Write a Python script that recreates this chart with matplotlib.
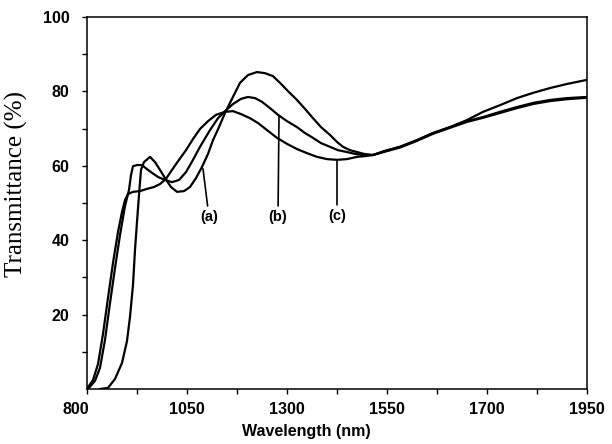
import matplotlib
import matplotlib.pyplot as plt
from matplotlib.ticker import FixedLocator
from matplotlib.transforms import ScaledTranslation

matplotlib.use('Agg')

# wavelength (nm, as read along the evenly spaced axis) and transmittance (%)
wl_a = [832.5, 852.5, 870, 887.5, 900, 907.5, 915, 920, 925, 930, 935, 942.5,
        957.5, 970, 982.5, 995, 1010, 1025, 1042.5, 1057.5, 1072.5, 1087.5,
        1102.5, 1115, 1130, 1145, 1162.5, 1182.5, 1202.5, 1225, 1245, 1265,
        1282.5, 1305, 1325, 1345, 1365, 1385, 1407.5, 1425, 1440, 1457.5,
        1475, 1492.5, 1515, 1545, 1582.5, 1625, 1665, 1707.5, 1750, 1790,
        1832.5, 1875, 1915, 1957.5, 2000, 2050]
tr_a = [0.0, 0.3, 2.7, 7.0, 12.9, 19.4, 28.0, 37.4, 44.9, 52.2, 58.9, 61.0,
        62.4, 61.0, 58.9, 56.7, 54.3, 53.0, 53.2, 54.3, 56.7, 59.7,
        63.2, 66.9, 70.4, 74.2, 78.0, 82.3, 84.4, 85.2, 84.9, 84.1,
        82.3, 79.8, 77.7, 75.3, 72.8, 70.4, 68.3, 66.4, 65.1, 64.2,
        63.7, 63.2, 62.9, 64.0, 65.1, 66.9, 68.8, 70.4, 72.3, 74.5,
        76.3, 78.2, 79.6, 80.9, 82.0, 83.1]

wl_b = [805, 820, 832.5, 845, 857.5, 870, 882.5, 895, 905, 910, 915, 925,
        937.5, 950, 962.5, 977.5, 995, 1012.5, 1030, 1047.5, 1065, 1082.5,
        1107.5, 1127.5, 1145, 1165, 1185, 1202.5, 1220, 1237.5, 1257.5,
        1277.5, 1300, 1325, 1345, 1365, 1385, 1407.5, 1427.5, 1450, 1470,
        1490, 1515, 1545, 1582.5, 1625, 1665, 1707.5, 1750, 1790, 1832.5,
        1875, 1915, 1957.5, 2000, 2050]
tr_b = [0.3, 2.2, 5.7, 13.2, 23.1, 32.5, 41.4, 49.2, 53.5, 57.5, 59.9, 60.2,
        60.2, 59.1, 58.1, 57.0, 56.2, 55.6, 56.2, 58.3, 61.6, 65.1,
        69.6, 72.8, 74.7, 76.6, 78.0, 78.5, 78.2, 77.2, 75.5,
        73.7, 72.0, 70.4, 68.8, 67.5, 66.1, 65.1, 64.2, 63.7, 63.2,
        62.9, 62.9, 64.0, 65.1, 66.9, 68.8, 70.4, 72.0, 73.1, 74.5,
        75.8, 76.9, 77.7, 78.2, 78.5]

wl_c = [802.5, 815, 827.5, 840, 852.5, 865, 877.5, 887.5, 895, 902.5, 915,
        932.5, 950, 967.5, 982.5, 997.5, 1012.5, 1030, 1047.5, 1065, 1082.5,
        1102.5, 1122.5, 1145, 1165, 1185, 1207.5, 1227.5, 1250, 1275, 1300,
        1325, 1350, 1375, 1400, 1425, 1450, 1475, 1495, 1515, 1545, 1582.5,
        1625, 1665, 1707.5, 1750, 1790, 1832.5, 1875, 1915, 1957.5, 2000, 2050]
tr_c = [0.5, 2.4, 6.7, 14.8, 24.5, 33.9, 42.2, 47.6, 50.8, 52.4, 53.0,
        53.2, 53.8, 54.3, 55.1, 56.5, 58.9, 61.6, 64.2, 67.2, 69.9,
        72.0, 73.7, 74.5, 74.7, 73.9, 72.8, 71.5, 69.6, 67.5, 65.9,
        64.5, 63.4, 62.4, 61.8, 61.6, 61.8, 62.4, 62.6, 62.9, 63.8, 64.9,
        66.7, 68.6, 70.2, 71.8, 72.9, 74.2, 75.5, 76.6, 77.4, 77.9, 78.3]

# x tick positions and the labels printed on the original axis
xtick_pos = [800, 1050, 1300, 1550, 1800, 2050]
xtick_lab = ['800', '1050', '1300', '1550', '1700', '1950']
ytick_pos = [20, 40, 60, 80, 100]

# curve labels: name, text position, pointer tip
labels = ['(a)', '(b)', '(c)']
label_xy = [(1105, 46.2), (1277.5, 46.2), (1425, 46.5)]
tip_xy = [(1090, 59.2), (1280, 73.3), (1425, 61.6)]

fig = plt.figure(figsize=(6.12, 4.44), dpi=100)
ax = fig.add_axes([87 / 612, 1 - 389 / 444, 500 / 612, 372 / 444])

for wl, tr in [(wl_a, tr_a), (wl_b, tr_b), (wl_c, tr_c)]:
    ax.plot(wl, tr, color='black', lw=1.6, solid_joinstyle='round')

for name, txy, tip in zip(labels, label_xy, tip_xy):
    ax.annotate(name, xy=tip, xytext=txy, ha='center', va='center',
                fontsize=10.5, fontweight='bold', family='Liberation Sans',
                arrowprops=dict(arrowstyle='-', color='black', lw=1.2,
                                shrinkA=1, shrinkB=0))

ax.set_xlim(800, 2050)
ax.set_ylim(0, 100)
ax.xaxis.set_major_locator(FixedLocator(xtick_pos))
ax.set_xticklabels(xtick_lab)
ax.xaxis.set_minor_locator(FixedLocator([p + 125 for p in xtick_pos[:-1]]))
ax.yaxis.set_major_locator(FixedLocator(ytick_pos))
ax.yaxis.set_minor_locator(FixedLocator([p - 10 for p in ytick_pos]))

ax.tick_params(which='both', direction='out', length=3.5, width=1.0,
               top=False, right=False)
ax.tick_params(axis='x', pad=6)
ax.tick_params(axis='y', pad=9)
for lab in ax.get_xticklabels() + ax.get_yticklabels():
    lab.set_fontfamily('Liberation Sans')
    lab.set_fontweight('bold')
    lab.set_fontsize(11.5)

# the "800" label sits a little left of its tick in the original
first = ax.get_xticklabels()[0]
first.set_transform(first.get_transform() +
                    ScaledTranslation(-8 / 72, 0, fig.dpi_scale_trans))

for s in ax.spines.values():
    s.set_linewidth(1.1)

ax.set_xlabel('Wavelength (nm)', fontsize=11.5, fontweight='bold',
              family='Liberation Sans')
ax.xaxis.set_label_coords(0.438, -0.094)
ax.set_ylabel('Transmittance (%)', fontsize=18, family='Liberation Serif')
ax.yaxis.set_label_coords(-0.118, 0.55)

fig.savefig('out.png', dpi=100)
